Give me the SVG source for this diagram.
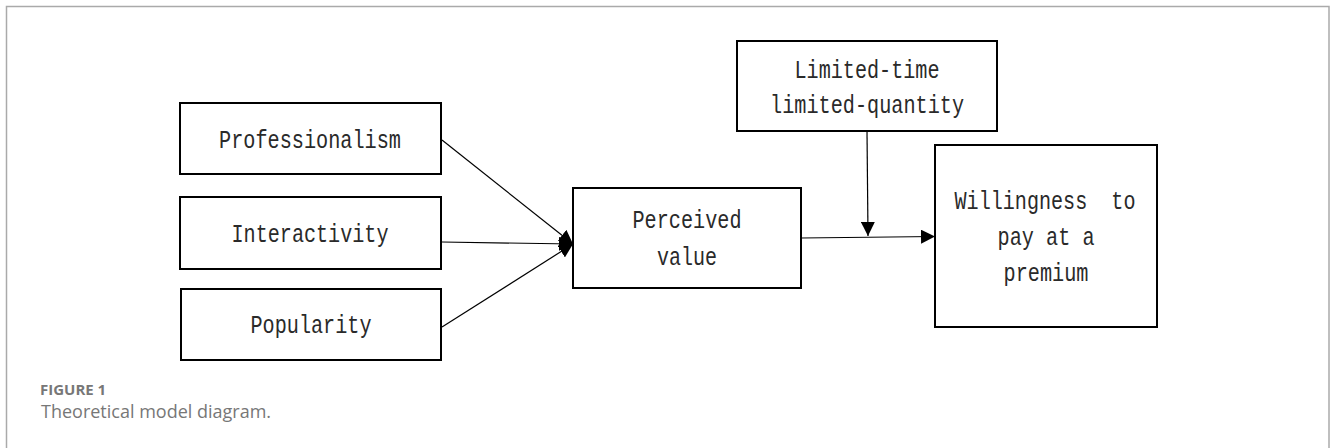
<svg xmlns="http://www.w3.org/2000/svg" width="1330" height="448" viewBox="0 0 1330 448">
  <style>
    .box { fill: #fff; stroke: #000; stroke-width: 2; }
    .lbl { font-family: "Liberation Mono", "DejaVu Sans Mono", monospace; font-size: 20px; fill: #2a2a2a; text-anchor: middle; }
    .edge { stroke: #000; stroke-width: 1.2; fill: none; }
    .cap { font-family: "Open Sans", "Liberation Sans", sans-serif; fill: #777; }
  </style>
  <defs>
    <marker id="head" viewBox="0 0 14 14" refX="14" refY="7" markerWidth="14" markerHeight="14" markerUnits="userSpaceOnUse" orient="auto">
      <path d="M0,0 L14,7 L0,14 Z" fill="#000"/>
    </marker>
  </defs>

  <rect width="1330" height="448" fill="#fff"/>
  <!-- outer frame -->
  <path d="M6.5,448 V6.5 H1329 V448" fill="none" stroke="#aaa" stroke-width="1.5"/>

  <!-- connectors -->
  <g id="connectors">
    <line class="edge" x1="442" y1="140" x2="573" y2="244" marker-end="url(#head)"/>
    <line class="edge" x1="442" y1="242" x2="573" y2="244" marker-end="url(#head)"/>
    <line class="edge" x1="442" y1="327" x2="573" y2="244" marker-end="url(#head)"/>
    <line class="edge" x1="801" y1="238" x2="935" y2="236.5" marker-end="url(#head)"/>
    <line class="edge" x1="867" y1="131" x2="868" y2="236" marker-end="url(#head)"/>
  </g>

  <!-- labels are set in a monospaced face, stretched vertically -->
  <g id="professionalism">
    <rect class="box" x="180" y="103" width="261" height="71"/>
    <text class="lbl" transform="translate(310 148) scale(1 1.25)" textLength="182" lengthAdjust="spacingAndGlyphs">Professionalism</text>
  </g>
  <g id="interactivity">
    <rect class="box" x="180" y="197" width="261" height="72"/>
    <text class="lbl" transform="translate(310 242) scale(1 1.25)" textLength="157" lengthAdjust="spacingAndGlyphs">Interactivity</text>
  </g>
  <g id="popularity">
    <rect class="box" x="181" y="289" width="260" height="71"/>
    <text class="lbl" transform="translate(311 333) scale(1 1.25)" textLength="121" lengthAdjust="spacingAndGlyphs">Popularity</text>
  </g>
  <g id="perceived-value">
    <rect class="box" x="573" y="188" width="228" height="100"/>
    <text class="lbl" transform="translate(687 228) scale(1 1.25)" textLength="109" lengthAdjust="spacingAndGlyphs">Perceived</text>
    <text class="lbl" transform="translate(687 265) scale(1 1.25)" textLength="60" lengthAdjust="spacingAndGlyphs">value</text>
  </g>
  <g id="limited-time">
    <rect class="box" x="737" y="41" width="260" height="90"/>
    <text class="lbl" transform="translate(867 78) scale(1 1.25)" textLength="145" lengthAdjust="spacingAndGlyphs">Limited-time</text>
    <text class="lbl" transform="translate(867 113) scale(1 1.25)" textLength="194" lengthAdjust="spacingAndGlyphs">limited-quantity</text>
  </g>
  <g id="willingness">
    <rect class="box" x="935" y="145" width="222" height="182"/>
    <text class="lbl" transform="translate(1045 209) scale(1 1.25)" textLength="181" lengthAdjust="spacingAndGlyphs" xml:space="preserve">Willingness  to</text>
    <text class="lbl" transform="translate(1046 245) scale(1 1.25)" textLength="97" lengthAdjust="spacingAndGlyphs">pay at a</text>
    <text class="lbl" transform="translate(1046 281) scale(1 1.25)" textLength="85" lengthAdjust="spacingAndGlyphs">premium</text>
  </g>

  <!-- caption -->
  <text class="cap" x="40" y="395" font-size="15" font-weight="700">FIGURE 1</text>
  <text class="cap" x="41" y="418" font-size="18">Theoretical model diagram.</text>
</svg>
